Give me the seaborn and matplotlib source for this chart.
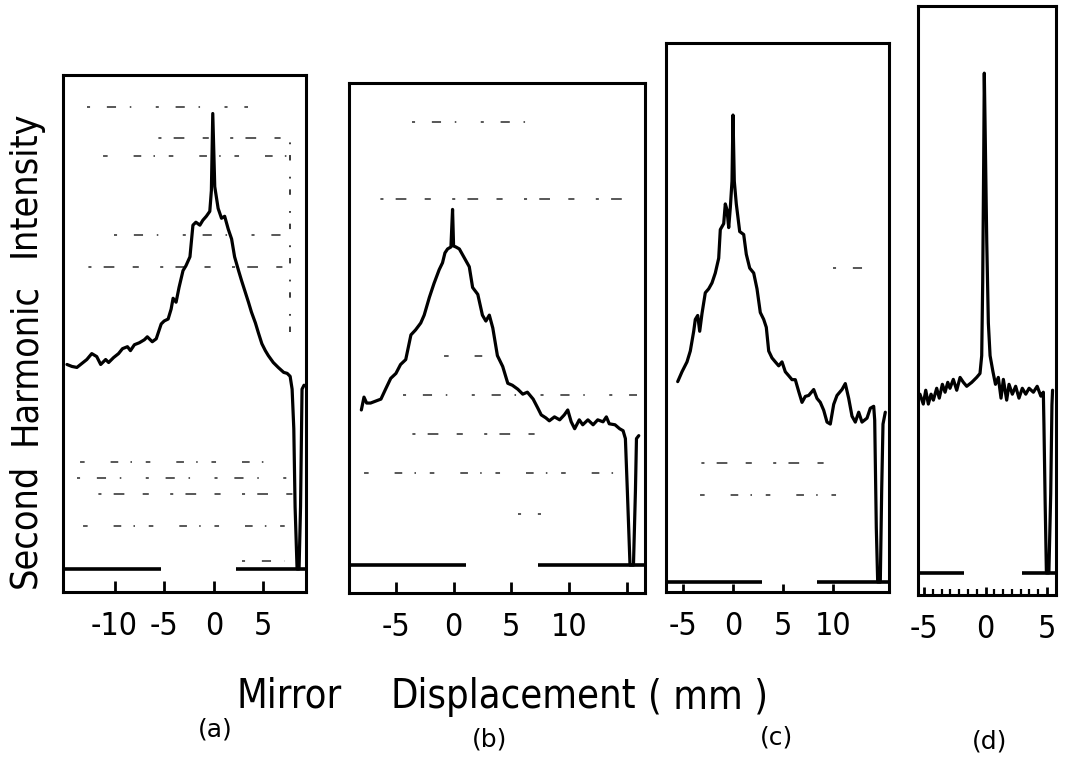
import matplotlib
matplotlib.use("Agg")
import matplotlib.pyplot as plt
from matplotlib import font_manager
import pandas as pd
import seaborn as sns

sns.set_theme(style="white")
plt.rcParams["axes.unicode_minus"] = False
plt.rcParams["font.family"] = ["DejaVu Sans"]

# use the condensed cut of DejaVu Sans when the system provides it
HAS_CONDENSED = any(f.name == "DejaVu Sans" and str(f.stretch) in ("condensed", "semi-condensed", "600", "500")
                    for f in font_manager.fontManager.ttflist)
STRETCH = "condensed" if HAS_CONDENSED else "normal"
SCALE = 1.0 if HAS_CONDENSED else 0.85

# ---- recorder traces: mirror displacement (mm) vs. second-harmonic intensity (a.u.) ----
a_x = [-14.8, -14.3, -13.8, -13.3, -12.8, -12.3, -11.8, -11.4, -10.9, -10.6, -10.1, -9.6,
       -9.2, -8.7, -8.4, -8.0, -7.5, -7.0, -6.7, -6.2, -5.8, -5.3, -5.0, -4.6, -4.3, -4.1,
       -3.8, -3.5, -3.1, -2.8, -2.4, -2.1, -1.8, -1.4, -1.1, -0.75, -0.4, -0.24, -0.1, 0.1,
       0.44, 0.78, 1.1, 1.46, 1.8, 2.1, 2.5, 2.8, 3.15, 3.5, 3.8, 4.2, 4.5, 4.85, 5.2, 5.5,
       6.0, 6.5, 7.05, 7.4, 7.7, 7.9, 8.07, 8.2, 8.4, 8.6, 8.75, 8.9, 9.1]
a_i = [20.7, 20.5, 20.4, 20.8, 21.2, 21.8, 21.5, 20.7, 21.2, 20.9, 21.4, 21.8,
       22.3, 22.5, 22.1, 22.7, 22.9, 23.2, 23.5, 23.0, 23.3, 24.8, 25.1, 25.3, 26.3, 27.4,
       27.0, 28.5, 30.2, 30.7, 31.6, 34.8, 35.1, 34.8, 35.3, 35.7, 36.2, 38.3, 46.1, 38.7,
       36.5, 35.5, 35.7, 34.4, 33.4, 31.6, 30.2, 29.2, 28.1, 27.0, 26.0, 24.9, 23.9, 22.8,
       22.1, 21.6, 20.9, 20.4, 19.9, 19.8, 19.5, 18.2, 14.2, 6.3, 0.0, 0.0, 6.3, 18.2, 18.6]

b_x = [-8.0, -7.77, -7.54, -7.2, -6.75, -6.3, -5.9, -5.45, -5.0, -4.6, -4.15, -3.7, -3.3,
       -2.85, -2.55, -2.1, -1.7, -1.25, -0.96, -0.75, -0.52, -0.23, -0.09, 0.0, 0.2, 0.5,
       0.93, 1.36, 1.65, 2.1, 2.5, 2.8, 3.1, 3.4, 3.8, 4.26, 4.7, 5.1, 5.57, 6.0, 6.4, 6.9,
       7.3, 7.6, 8.0, 8.3, 8.75, 9.2, 9.6, 9.9, 10.2, 10.5, 10.9, 11.2, 11.65, 12.1, 12.5,
       12.96, 13.25, 13.5, 14.0, 14.4, 14.7, 14.9, 15.07, 15.3, 15.6, 15.77, 15.86, 16.06]
b_i = [15.7, 17.0, 16.4, 16.4, 16.6, 16.8, 17.8, 18.9, 19.4, 20.3, 20.8, 23.3, 23.8,
       24.5, 25.3, 27.1, 28.5, 29.9, 30.6, 31.6, 32.0, 32.2, 36.0, 32.3, 32.2, 32.0,
       31.1, 30.2, 28.1, 27.4, 25.3, 24.7, 25.3, 24.0, 21.2, 20.1, 18.4, 18.2, 17.8, 17.3,
       17.5, 16.8, 15.9, 15.2, 14.9, 14.6, 15.0, 14.7, 15.2, 15.7, 14.5, 13.8, 14.7, 14.2,
       14.7, 14.2, 14.7, 14.5, 15.0, 14.3, 14.2, 13.8, 13.6, 12.8, 7.5, 0.0, 0.0, 7.5,
       12.8, 13.1]

c_x = [-5.53, -5.1, -4.6, -4.27, -3.93, -3.77, -3.53, -3.33, -3.1, -2.77, -2.43, -2.1,
       -1.77, -1.43, -1.27, -0.93, -0.77, -0.6, -0.43, -0.27, -0.1, 0.0, 0.13, 0.33, 0.67,
       1.07, 1.33, 1.67, 2.07, 2.4, 2.73, 3.07, 3.33, 3.57, 3.9, 4.23, 4.57, 4.9, 5.23, 5.57,
       5.9, 6.23, 6.57, 6.9, 7.23, 7.57, 8.07, 8.4, 8.73, 9.07, 9.4, 9.73, 10.07, 10.4, 10.9,
       11.23, 11.57, 11.9, 12.23, 12.57, 12.9, 13.4, 13.73, 14.07, 14.17, 14.33, 14.47,
       14.73, 14.87, 15.0, 15.23]
c_i = [20.3, 21.3, 22.3, 23.4, 25.4, 26.6, 27.0, 25.4, 27.2, 29.3, 29.7, 30.3,
       31.3, 32.8, 35.7, 36.3, 38.3, 37.7, 35.9, 37.9, 40.6, 47.3, 40.6, 38.3, 35.5,
       35.2, 33.2, 31.8, 31.3, 29.7, 27.3, 26.6, 25.8, 23.4, 22.7, 22.3, 21.9, 22.3, 21.3,
       20.9, 20.5, 20.5, 19.3, 18.2, 18.8, 18.9, 19.5, 18.6, 18.2, 17.4, 16.2, 16.0, 18.0,
       18.9, 19.5, 20.1, 18.6, 16.8, 16.2, 17.2, 16.2, 16.6, 17.6, 17.8, 16.4, 5.5, 0.0,
       0.0, 9.4, 16.0, 17.2]

d_x = [-5.33, -5.06, -4.86, -4.65, -4.43, -4.24, -3.97, -3.76, -3.51, -3.29, -3.07, -2.89,
       -2.62, -2.34, -2.07, -1.80, -1.53, -1.12, -0.72, -0.45, -0.31, -0.23, -0.15, -0.1,
       -0.04, 0.1, 0.23, 0.37, 0.6, 0.81, 1.04, 1.26, 1.45, 1.72, 1.91, 2.18, 2.45, 2.72,
       2.99, 3.27, 3.54, 3.89, 4.2, 4.5, 4.7, 4.75, 4.85, 4.95, 5.15, 5.3, 5.4, 5.45]
d_i = [18.1, 17.1, 18.5, 17.1, 18.1, 17.5, 18.7, 17.7, 19.1, 18.3, 19.3, 18.7,
       19.6, 18.5, 19.8, 19.3, 18.9, 19.3, 19.8, 20.2, 22.0, 29.4, 41.6, 50.6,
       45.7, 33.5, 25.3, 22.0, 20.4, 19.1, 19.8, 17.7, 19.6, 17.5, 19.1, 18.1, 18.9, 17.7,
       18.7, 18.1, 18.7, 18.3, 18.9, 17.9, 18.3, 15.0, 7.0, 0.0, 0.0, 8.0, 17.0, 18.5]

# zero-level pen segments drawn along the bottom strip (start, end in mm)
a_zero = [(-15.2, -5.3), (2.2, 9.3)]
b_zero = [(-9.07, 1.07), (7.3, 16.6)]
c_zero = [(-6.7, 2.9), (8.4, 15.6)]
d_zero = [(-5.5, -1.75), (3.0, 5.75)]

# faint chart-paper rulings that show through the record (level, from mm, to mm)
a_rulings = [(46.8, -12.8, 3.5), (43.6, -7.7, 7.9), (41.8, -11.5, 7.9), (33.8, -10.1, 7.9),
             (30.6, -14.8, 7.6), (10.8, -13.8, 5.7), (9.2, -13.8, 7.9), (7.6, -13.8, 8.3),
             (4.3, -13.5, 7.9), (0.8, 2.8, 7.2)]
a_columns = [(7.7, 24.0, 44.5)]
b_rulings = [(44.9, -3.6, 7.9), (37.1, -8.2, 15.7), (21.2, -1.1, 3.2), (17.2, -4.4, 15.9),
             (13.3, -5.4, 7.6), (9.3, -8.0, 14.0), (5.2, 5.6, 7.6)]
c_rulings = [(31.8, 10.0, 14.0), (12.1, -5.3, 9.5), (8.8, -3.6, 12.4)]

# axis ticks and labels
a_ticks, a_labels = [-10, -5, 0, 5], ["-10", "-5", "0", "5"]
b_ticks, b_labels = [-5, 0, 5, 10, 15], ["-5", "0", "5", "10", ""]
c_ticks, c_labels = [-5, 0, 5, 10], ["-5", "0", "5", "10"]
d_ticks, d_labels = [-5, 0, 5], ["-5", "0", "5"]
d_minor = [-5 + k * 5 / 7 for k in range(15)]

panel_names = ["(a)", "(b)", "(c)", "(d)"]
ylabel_words = ["Second", "Harmonic", "Intensity"]
xlabel_words = ["Mirror", "Displacement", "( mm )"]

W, H = 1067, 759
fig = plt.figure(figsize=(W / 100, H / 100), dpi=100)
fig.patch.set_facecolor("white")


def rect(left, top, right, bottom):
    return [left / W, 1 - bottom / H, (right - left) / W, (bottom - top) / H]


panels = [
    dict(x=a_x, y=a_i, box=(63, 75, 306, 592), xlim=(-15.2, 9.3), ylim=(-2.33, 50.0),
         zero=a_zero, rulings=a_rulings, columns=a_columns, ticks=a_ticks, labels=a_labels,
         minor=None, tlen=8),
    dict(x=b_x, y=b_i, box=(349, 83, 645, 593), xlim=(-9.07, 16.6), ylim=(-2.83, 48.8),
         zero=b_zero, rulings=b_rulings, columns=[], ticks=b_ticks, labels=b_labels,
         minor=None, tlen=8),
    dict(x=c_x, y=c_i, box=(666, 43, 889, 592), xlim=(-6.7, 15.6), ylim=(-1.01, 54.6),
         zero=c_zero, rulings=c_rulings, columns=[], ticks=c_ticks, labels=c_labels,
         minor=None, tlen=6),
    dict(x=d_x, y=d_i, box=(918, 6, 1056, 595), xlim=(-5.49, 5.73), ylim=(-2.23, 57.4),
         zero=d_zero, rulings=[], columns=[], ticks=d_ticks, labels=d_labels,
         minor=d_minor, tlen=6),
]

dash_styles = [(0, (2, 11, 6, 9, 1, 16)), (4, (4, 14, 2, 8, 7, 12)), (8, (1, 9, 3, 17, 5, 8))]

for p in panels:
    ax = fig.add_axes(rect(*p["box"]))
    ax.set_facecolor("white")
    for k, (lev, x0, x1) in enumerate(p["rulings"]):
        ax.hlines(lev, x0, x1, color="#2a2a2a", linewidth=1.1,
                  linestyles=[dash_styles[k % len(dash_styles)]])
    for xc, y0, y1 in p["columns"]:
        ax.vlines(xc, y0, y1, color="#2a2a2a", linewidth=1.3,
                  linestyles=[(0, (3, 6, 1, 9))])
    df = pd.DataFrame({"mm": p["x"], "shg": p["y"]})
    sns.lineplot(data=df, x="mm", y="shg", ax=ax, color="black", linewidth=2.3,
                 estimator=None, sort=False)
    for x0, x1 in p["zero"]:
        ax.hlines(0, x0, x1, color="black", linewidth=2.6)
    ax.set_xlim(*p["xlim"])
    ax.set_ylim(*p["ylim"])
    ax.set_xlabel("")
    ax.set_ylabel("")
    ax.set_yticks([])
    ax.set_xticks(p["ticks"])
    ax.set_xticklabels(p["labels"])
    for lab in ax.get_xticklabels():
        lab.set_fontstretch(STRETCH)
    if p["minor"] is not None:
        ax.set_xticks(p["minor"], minor=True)
        ax.tick_params(axis="x", which="minor", direction="in", length=4, width=1.6,
                       color="black", bottom=True)
    ax.tick_params(axis="x", which="major", direction="in", length=p["tlen"], width=2,
                   color="black", bottom=True, pad=14, labelsize=23 * SCALE,
                   labelcolor="black")
    for s in ax.spines.values():
        s.set_visible(True)
        s.set_color("black")
        s.set_linewidth(2.2)

for word, cy in zip(ylabel_words, [526, 364, 184]):
    fig.text(25 / W, 1 - cy / H, word, rotation=90, ha="center", va="center",
             fontsize=27 * SCALE, fontstretch=STRETCH, color="black")
for word, cx in zip(xlabel_words, [289, 513, 708]):
    fig.text(cx / W, 1 - 697 / H, word, ha="center", va="center",
             fontsize=28.5 * SCALE, fontstretch=STRETCH, color="black")
for name, cx, cy in zip(panel_names, [215, 490, 776, 990], [729, 739, 738, 741]):
    fig.text(cx / W, 1 - cy / H, name, ha="center", va="center", fontsize=18,
             color="black")

fig.savefig("out.png", dpi=100, facecolor="white")
